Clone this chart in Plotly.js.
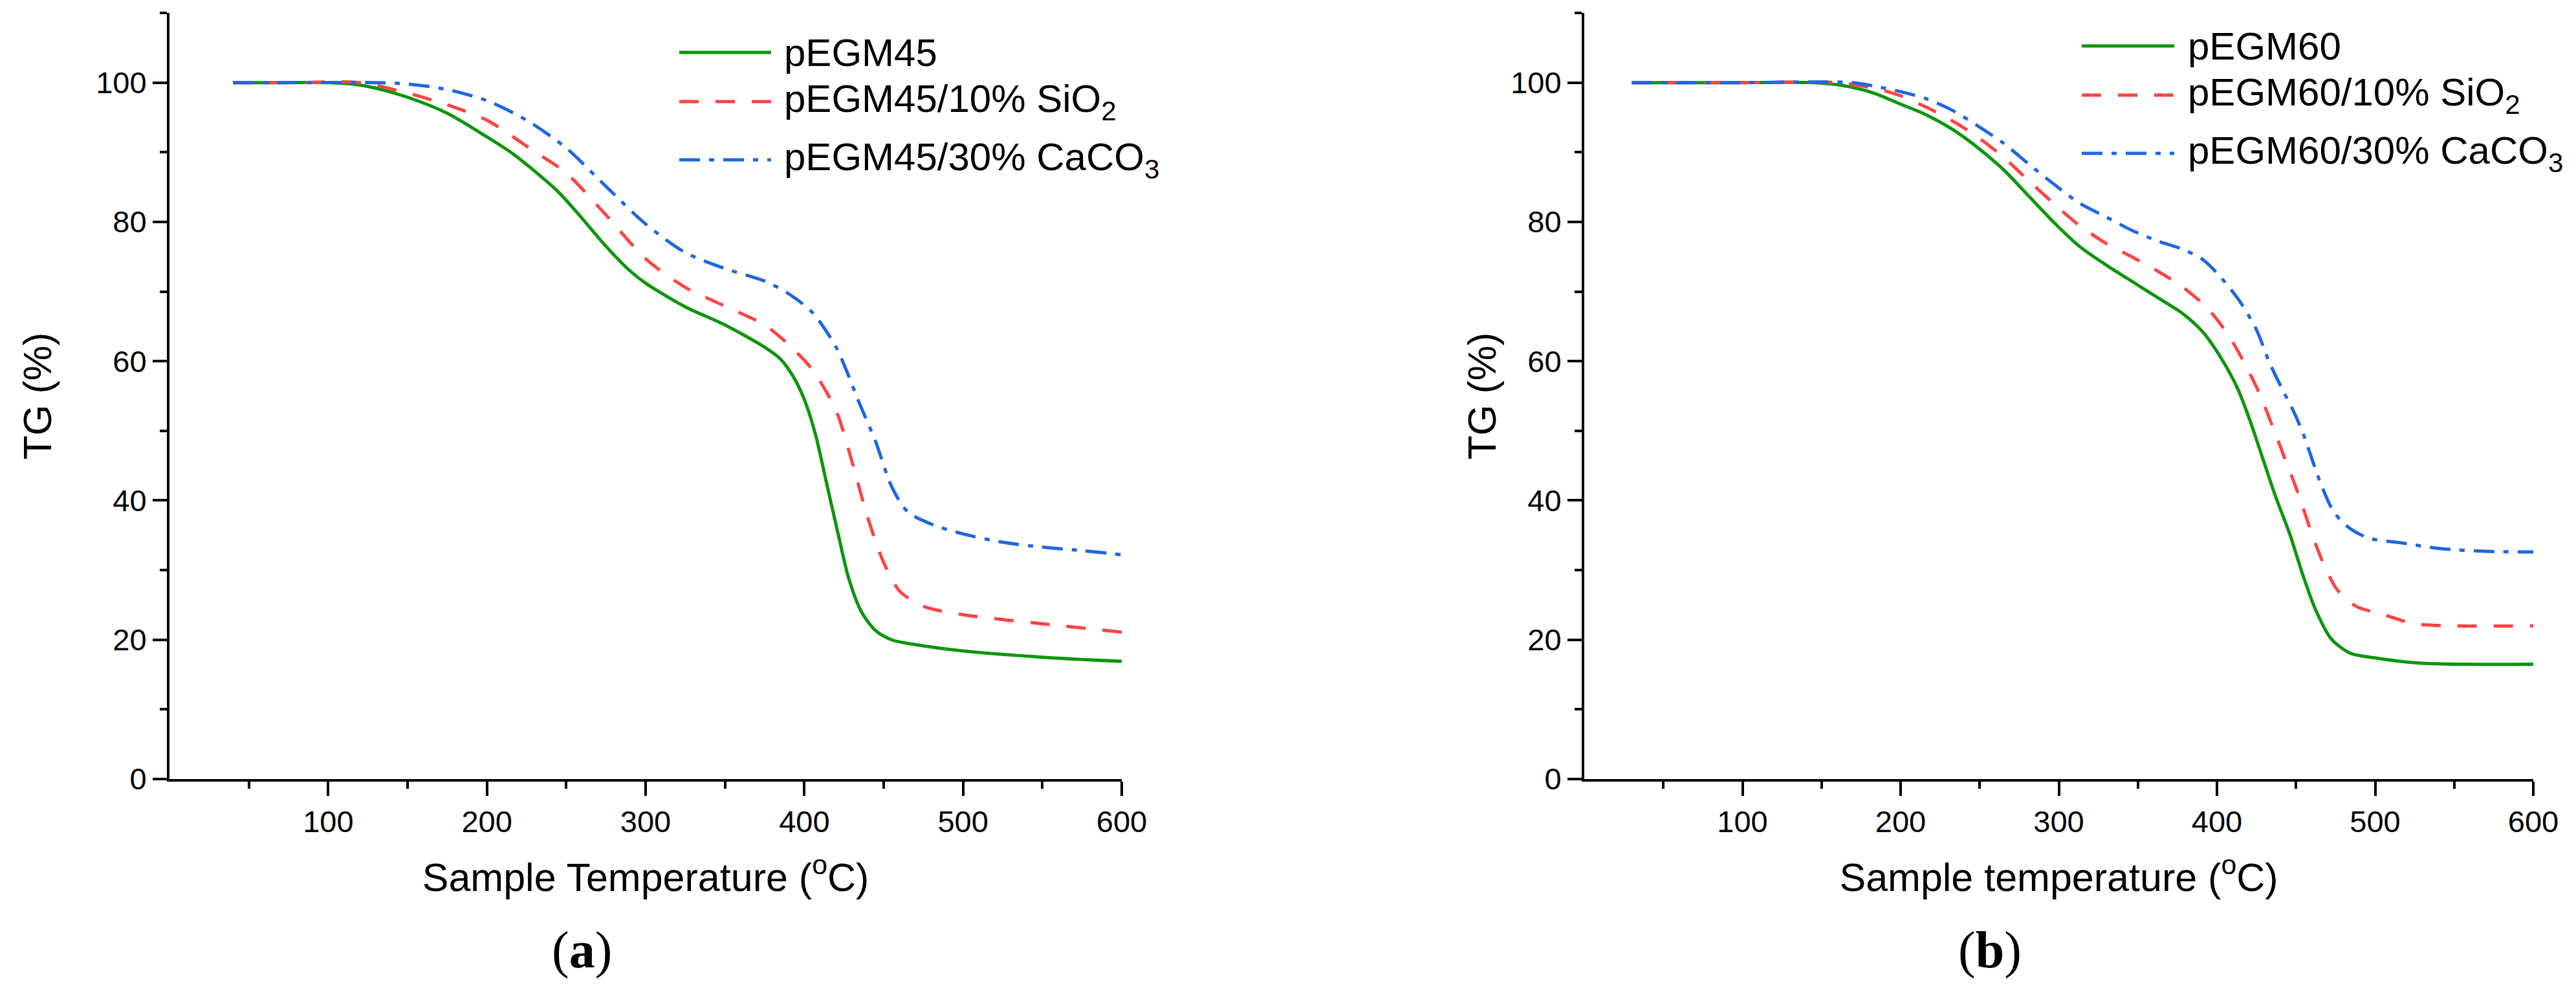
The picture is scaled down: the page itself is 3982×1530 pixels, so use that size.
<!DOCTYPE html>
<html>
<head>
<meta charset="utf-8">
<script src="https://cdn.plot.ly/plotly-3.0.1.min.js"></script>
<style>html,body{margin:0;padding:0;background:#fff;}#chart{width:3982px;height:1530px;}</style>
</head>
<body>
<div id="chart"></div>
<script>
// ---------- DATA ----------
// Panel (a)
const seriesNamesA = ["pEGM45", "pEGM45/10% SiO<sub>2</sub>", "pEGM45/30% CaCO<sub>3</sub>"];
const tempA_pEGM45 = [40, 70, 100, 115, 130, 150, 175, 200, 215, 230, 245, 260, 275, 290, 300, 325, 350, 375, 385, 393, 400, 407, 414, 421, 428, 436, 445, 455, 470, 500, 550, 600];
const tgA_pEGM45   = [100, 100, 100, 99.8, 99.2, 97.9, 95.6, 92.2, 90.0, 87.3, 84.3, 80.5, 76.5, 73.0, 71.2, 67.8, 65.2, 62.0, 60.3, 57.8, 54.5, 49.5, 42.5, 35.5, 28.8, 24.0, 21.3, 20.0, 19.3, 18.4, 17.5, 16.9];
const tempA_SiO2 = [40, 80, 120, 150, 175, 200, 230, 250, 275, 300, 325, 350, 375, 390, 405, 420, 430, 440, 450, 460, 475, 500, 550, 600];
const tgA_SiO2   = [100, 100, 100, 98.5, 96.8, 94.6, 90.1, 87.0, 81.0, 74.7, 70.6, 67.9, 65.2, 62.4, 58.8, 52.9, 45.6, 37.5, 31.1, 27.0, 24.8, 23.6, 22.3, 21.1];
const tempA_CaCO3 = [40, 90, 130, 150, 175, 200, 225, 250, 275, 300, 325, 350, 375, 390, 405, 420, 435, 445, 455, 465, 480, 500, 525, 550, 575, 600];
const tgA_CaCO3   = [100, 100, 100, 99.8, 99.0, 97.4, 94.6, 90.6, 85.1, 79.7, 75.6, 73.3, 71.5, 69.7, 67.0, 62.0, 53.8, 48.4, 42.0, 38.4, 36.6, 35.2, 34.0, 33.3, 32.8, 32.2];

// Panel (b)
const seriesNamesB = ["pEGM60", "pEGM60/10% SiO<sub>2</sub>", "pEGM60/30% CaCO<sub>3</sub>"];
const tempB_pEGM60 = [30, 90, 145, 163, 183, 200, 216, 232, 248, 265, 281, 297, 313, 330, 346, 362, 378, 391, 403, 413, 421, 429, 437, 446, 454, 462, 472, 484, 500, 525, 550, 600];
const tgB_pEGM60   = [100, 100, 100, 99.6, 98.5, 96.9, 95.4, 93.4, 90.8, 87.5, 83.7, 79.9, 76.5, 73.8, 71.5, 69.2, 66.9, 64.2, 60.3, 56.1, 51.4, 46.0, 40.6, 35.2, 29.5, 24.5, 20.2, 18.1, 17.4, 16.7, 16.5, 16.5];
const tempB_SiO2 = [30, 100, 160, 183, 200, 216, 232, 248, 265, 281, 297, 313, 330, 346, 362, 378, 394, 407, 417, 427, 435, 443, 452, 460, 468, 476, 488, 504, 525, 550, 600];
const tgB_SiO2   = [100, 100, 100, 99.2, 98.1, 96.5, 94.6, 92.3, 89.3, 85.9, 82.6, 79.5, 76.9, 75.0, 73.0, 70.7, 67.6, 63.8, 59.9, 55.3, 50.7, 46.0, 40.6, 35.2, 30.6, 27.2, 24.8, 23.7, 22.3, 22.0, 22.0];
const tempB_CaCO3 = [30, 100, 170, 183, 200, 216, 232, 248, 265, 281, 297, 313, 330, 346, 362, 378, 391, 403, 415, 425, 433, 441, 448, 454, 460, 466, 474, 484, 496, 517, 541, 570, 600];
const tgB_CaCO3   = [100, 100, 100, 99.5, 98.7, 97.7, 96.1, 93.9, 91.3, 88.3, 85.4, 82.7, 80.7, 78.8, 77.3, 76.1, 74.6, 71.9, 68.4, 64.5, 59.9, 56.1, 53.0, 49.9, 46.0, 42.2, 38.3, 36.0, 34.6, 33.9, 33.1, 32.7, 32.6];

// Axis ticks
const xMajorTicks = [100, 200, 300, 400, 500, 600];
const xMinorTicks = [50, 150, 250, 350, 450, 550];
const yMajorTicks = [0, 20, 40, 60, 80, 100];
const yMinorTicks = [10, 30, 50, 70, 90, 110];

const xTitleA = "Sample Temperature (<sup>o</sup>C)";
const xTitleB = "Sample temperature (<sup>o</sup>C)";
const yTitle = "TG (%)";
const panelLabels = ["(<b>a</b>)", "(<b>b</b>)"];

// ---------- STYLE ----------
const W = 3982, H = 1530;
const colors = ["#0b960b", "#ff4343", "#1f66e5"];
const dashes = ["solid", "30px,26px", "32px,14px,8px,14px"];
const LW = 5;
const sans = "Liberation Sans, Arial, sans-serif";
const serif = "Liberation Serif, Times New Roman, serif";
const px = v => v / W;
const py = v => 1 - v / H;

function mk(x, y, i, xa, ya, name) {
  return {
    x: x, y: y, name: name, type: "scatter", mode: "lines",
    xaxis: xa, yaxis: ya, showlegend: false,
    line: {color: colors[i], width: LW, dash: dashes[i], shape: "spline", smoothing: 0.8}
  };
}

const traces = [
  mk(tempA_pEGM45, tgA_pEGM45, 0, "x", "y", seriesNamesA[0]),
  mk(tempA_SiO2, tgA_SiO2, 1, "x", "y", seriesNamesA[1]),
  mk(tempA_CaCO3, tgA_CaCO3, 2, "x", "y", seriesNamesA[2]),
  mk(tempB_pEGM60, tgB_pEGM60, 0, "x2", "y2", seriesNamesB[0]),
  mk(tempB_SiO2, tgB_SiO2, 1, "x2", "y2", seriesNamesB[1]),
  mk(tempB_CaCO3, tgB_CaCO3, 2, "x2", "y2", seriesNamesB[2])
];

function xAxis(domain, title, anchor, standoff) {
  return {
    domain: domain, anchor: anchor, range: [0, 600],
    showline: true, linecolor: "#000", linewidth: 4, mirror: false,
    showgrid: false, zeroline: false,
    tickmode: "array", tickvals: xMajorTicks,
    ticks: "outside", ticklen: 22, tickwidth: 4, tickcolor: "#000",
    tickfont: {family: sans, size: 47, color: "#000"},
    minor: {tickmode: "array", tickvals: xMinorTicks, ticks: "outside", ticklen: 11, tickwidth: 4, tickcolor: "#000", showgrid: false},
    title: {text: title, font: {family: sans, size: 61, color: "#000"}, standoff: standoff},
    fixedrange: true
  };
}
function yAxis(domain, anchor, standoff) {
  return {
    domain: domain, anchor: anchor, range: [0, 110],
    showline: true, linecolor: "#000", linewidth: 4, mirror: false,
    showgrid: false, zeroline: false,
    tickmode: "array", tickvals: yMajorTicks,
    ticks: "outside", ticklen: 22, tickwidth: 4, tickcolor: "#000",
    tickfont: {family: sans, size: 47, color: "#000"},
    minor: {tickmode: "array", tickvals: yMinorTicks, ticks: "outside", ticklen: 11, tickwidth: 4, tickcolor: "#000", showgrid: false},
    title: {text: yTitle, font: {family: sans, size: 61, color: "#000"}, standoff: standoff},
    fixedrange: true
  };
}

const yDom = [1 - 1204 / H, 1 - 20 / H];
const layout = {
  width: W, height: H,
  margin: {l: 0, r: 0, t: 0, b: 0, pad: 0},
  paper_bgcolor: "#fff", plot_bgcolor: "#fff",
  showlegend: false,
  xaxis: xAxis([px(262), px(1734)], xTitleA, "y", 40),
  yaxis: yAxis(yDom, "x", 50),
  xaxis2: xAxis([px(2449), px(3916)], xTitleB, "y2", 40),
  yaxis2: yAxis(yDom, "x2", 4),
  shapes: [],
  annotations: []
};

// Legend keys and labels (panel a and b)
const legendA = {x0: 1050, x1: 1192, tx: 1210, rows: [81, 157, 247], names: seriesNamesA};
const legendB = {x0: 3218, x1: 3361, tx: 3380, rows: [71, 147, 237], names: seriesNamesB};
[legendA, legendB].forEach(lg => {
  lg.rows.forEach((r, i) => {
    layout.shapes.push({type: "line", xref: "paper", yref: "paper",
      x0: px(lg.x0), x1: px(lg.x1), y0: py(r), y1: py(r),
      line: {color: colors[i], width: LW, dash: dashes[i]}});
    layout.annotations.push({xref: "paper", yref: "paper", x: px(lg.tx), y: py(r),
      xanchor: "left", yanchor: "middle", showarrow: false, align: "left",
      text: lg.names[i], font: {family: sans, size: 60, color: "#000"}});
  });
});

// Panel labels
layout.annotations.push({xref: "paper", yref: "paper", x: px(899), y: py(1468), xanchor: "center", yanchor: "middle",
  showarrow: false, text: panelLabels[0], font: {family: serif, size: 80, color: "#000"}});
layout.annotations.push({xref: "paper", yref: "paper", x: px(3076), y: py(1468), xanchor: "center", yanchor: "middle",
  showarrow: false, text: panelLabels[1], font: {family: serif, size: 80, color: "#000"}});

Plotly.newPlot("chart", traces, layout, {staticPlot: true, displayModeBar: false});
</script>
</body>
</html>
